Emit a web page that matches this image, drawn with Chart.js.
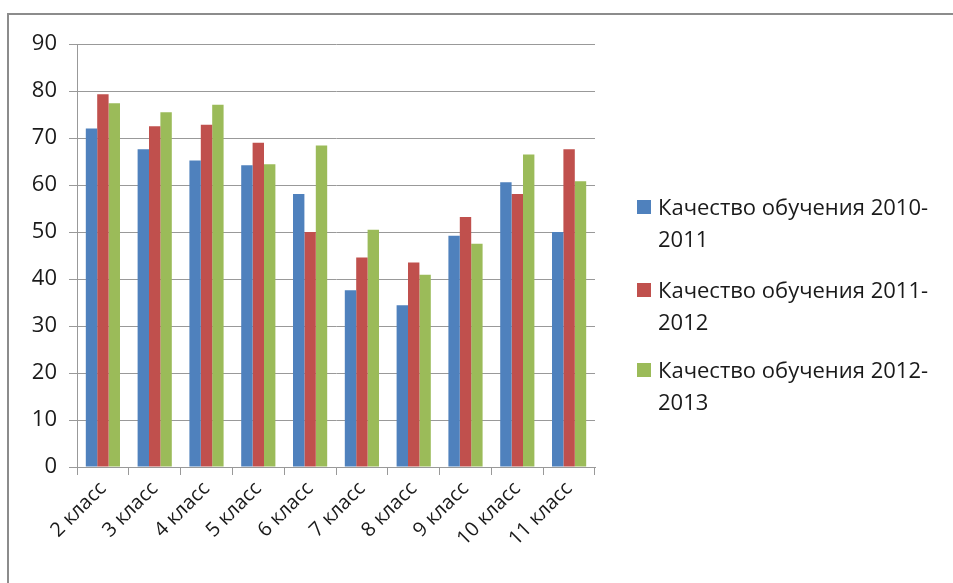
<!DOCTYPE html>
<html>
<head>
<meta charset="utf-8">
<script src="https://cdn.jsdelivr.net/npm/chart.js@4"></script>
<style>
    body { margin: 0; background: #fff; }
    #wrap { position: relative; width: 953px; height: 583px; overflow: hidden; }
    #frame { position: absolute; left: 7px; top: 13px; width: 1000px; height: 1000px;
             border-left: 2px solid #8c8c8c; border-top: 2px solid #8c8c8c; }
    canvas { position: absolute; left: 0; top: 0; }
    .item { position: absolute; left: 637px; font-family: 'Open Sans', sans-serif;
            font-size: 22px; line-height: 32px; color: #1a1a1a; }
    .item .box { position: absolute; left: 0; top: 10px; width: 14px; height: 14px; }
    .item .txt { margin-left: 21px; white-space: nowrap; }
</style>
</head>
<body>
<div id="wrap">
    <div id="frame"></div>
    <canvas id="barChart" width="953" height="583"></canvas>
    <div id="legend"></div>
</div>
<script>
const categories = ['2 класс', '3 класс', '4 класс', '5 класс', '6 класс', '7 класс', '8 класс', '9 класс', '10 класс', '11 класс'];
const seriesNames = ['Качество обучения 2010-2011', 'Качество обучения 2011-2012', 'Качество обучения 2012-2013'];
const quality2010 = [72, 67.6, 65.2, 64.2, 58.1, 37.6, 34.4, 49.2, 60.6, 50];
const quality2011 = [79.3, 72.5, 72.8, 69, 50, 44.6, 43.5, 53.2, 58.1, 67.6];
const quality2012 = [77.4, 75.5, 77.1, 64.4, 68.4, 50.5, 40.9, 47.5, 66.5, 60.8];
const yTicks = [0, 10, 20, 30, 40, 50, 60, 70, 80, 90];

const colors = ['#4F81BD', '#C0504D', '#9BBB59'];
const values = [quality2010, quality2011, quality2012];

// legend drawn as html so that the labels can wrap like the original
const legendTops = [190, 273, 353];
let legend = document.getElementById('legend');
seriesNames.forEach(function(name, i) {
    let item = document.createElement('div');
    item.className = 'item';
    item.style.top = legendTops[i] + 'px';
    item.innerHTML = '<div class="box" style="background:' + colors[i] + '"></div>' +
        '<div class="txt">' + name.replace('-', '-<br>') + '</div>';
    legend.appendChild(item);
});

var ctx = document.getElementById('barChart').getContext('2d');
new Chart(ctx, {
    type: 'bar',
    data: {
        labels: categories,
        datasets: values.map(function(data, i) {
            return {
                label: seriesNames[i],
                data: data,
                backgroundColor: colors[i],
                barPercentage: 1,
                categoryPercentage: 0.66
            };
        })
    },
    options: {
        responsive: false,
        animation: false,
        layout: { padding: { top: 44, right: 358, left: 0, bottom: 0 } },
        plugins: { legend: { display: false }, tooltip: { enabled: false } },
        scales: {
            x: {
                grid: { drawOnChartArea: false, offset: true, tickLength: 8, color: '#999' },
                border: { color: '#999' },
                ticks: { minRotation: 45, maxRotation: 45, font: { family: 'Open Sans', size: 20 }, color: '#1a1a1a', padding: 2 },
                afterFit: function(scale) { scale.height = 116; }
            },
            y: {
                min: 0,
                max: 90,
                afterBuildTicks: function(scale) { scale.ticks = yTicks.map(v => ({ value: v })); },
                grid: { tickLength: 8, color: '#999' },
                border: { color: '#999' },
                ticks: { font: { family: 'Open Sans', size: 22 }, color: '#1a1a1a', padding: 12 },
                afterFit: function(scale) { scale.width = 77; }
            }
        }
    }
});
</script>
</body>
</html>
